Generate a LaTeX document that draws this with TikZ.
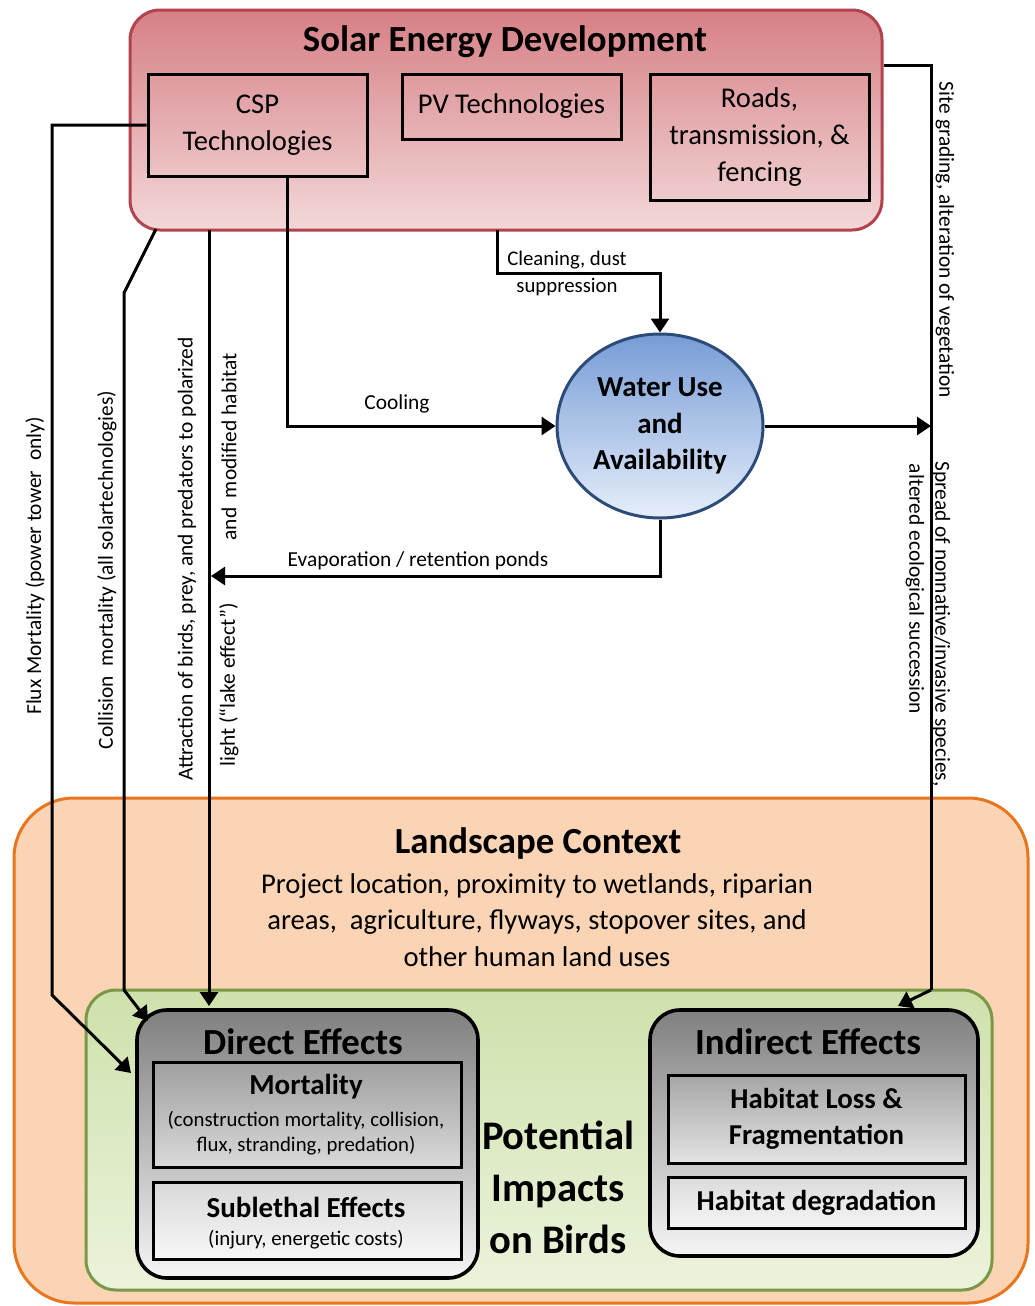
\documentclass[tikz,border=0pt]{standalone}
\usepackage{fontspec}
\setmainfont{Carlito}
\usetikzlibrary{shapes.geometric, arrows.meta, positioning, calc}
\definecolor{solarred}{RGB}{178, 66, 78}
\definecolor{solartop}{RGB}{214, 128, 134}
\definecolor{solarbot}{RGB}{243, 216, 216}
\definecolor{waterblue}{RGB}{45, 75, 120}
\definecolor{watertop}{RGB}{118, 156, 214}
\definecolor{waterbot}{RGB}{230, 238, 250}
\definecolor{landorange}{RGB}{232, 118, 30}
\definecolor{landfill}{RGB}{251, 212, 181}
\definecolor{impactgreen}{RGB}{122, 152, 70}
\definecolor{greentop}{RGB}{206, 225, 172}
\definecolor{greenbot}{RGB}{236, 243, 220}

\tikzset{
  techbox/.style={draw=black, line width=1.5pt, align=center, inner sep=0pt,
    font=\fontsize{14.3}{18.5}\selectfont},
  effectbox/.style={draw=black, line width=1.8pt, rounded corners=15pt,
    top color=gray!100!black, bottom color=gray!8},
  subbox/.style={draw=black, line width=1.5pt, align=center, inner sep=0pt},
  flow/.style={line width=1.5pt, -{Triangle[length=7pt, width=9pt]}},
  lbl/.style={font=\fontsize{10.7}{12}\selectfont, inner sep=0pt},
  heading/.style={font=\fontsize{18.4}{21}\selectfont\bfseries},
}

\begin{document}
\begin{tikzpicture}[x=0.5pt, y=-0.5pt]
  \useasboundingbox (0,0) rectangle (1034,1306);

  % landscape and impacts
  \node[draw=landorange, line width=1.5pt, fill=landfill, rounded corners=30pt,
    minimum width=507pt, minimum height=252.5pt] (land) at (521,1050.5) {};
  \node[heading] (landtitle) at (538,843) {Landscape Context};
  \node[align=center, font=\fontsize{14.3}{18.3}\selectfont] (landtext) at (537,920)
    {Project location, proximity to wetlands, riparian\\
     areas,\ \ agriculture, flyways, stopover sites, and\\
     other human land uses};
  \node[draw=impactgreen, line width=1.5pt, top color=greentop, bottom color=greenbot,
    rounded corners=15pt, minimum width=453pt, minimum height=150pt] (impacts) at (539,1140) {};

  \node[effectbox, minimum width=170.5pt, minimum height=134pt] (direct) at (307.5,1144) {};
  \node[heading] (directtitle) at (303,1042) {Direct Effects};
  \node[subbox, top color=gray!75, bottom color=gray!30, minimum width=154pt,
    minimum height=52.5pt] (mort) at (307,1114.5) {};
  \node[font=\fontsize{14.5}{15}\selectfont\bfseries] (morttitle) at (306,1087) {Mortality};
  \node[align=center, font=\fontsize{10.4}{12.5}\selectfont] (morttext) at (306,1133)
    {(construction mortality, collision,\\flux, stranding, predation)};
  \node[subbox, top color=gray!30, bottom color=gray!6, minimum width=154pt,
    minimum height=38.5pt] (sub) at (307,1220.5) {};
  \node[font=\fontsize{14.5}{15}\selectfont\bfseries] (subtitle) at (306,1207) {Sublethal Effects};
  \node[font=\fontsize{10.4}{12}\selectfont] (subtext) at (306,1240) {(injury, energetic costs)};

  \node[align=center, font=\fontsize{20.3}{26}\selectfont\bfseries] (impacttitle) at (558,1187)
    {Potential\\Impacts\\on Birds};

  \node[effectbox, minimum width=164pt, minimum height=123pt] (indirect) at (814,1133) {};
  \node[heading] (indirecttitle) at (808,1042) {Indirect Effects};
  \node[subbox, top color=gray!70, bottom color=gray!22, minimum width=148.5pt,
    minimum height=44pt, font=\fontsize{14.4}{18}\selectfont\bfseries] (loss) at (816.5,1119)
    {Habitat Loss \&\\Fragmentation};
  \node[subbox, top color=gray!28, bottom color=gray!8, minimum width=148.5pt,
    minimum height=25.5pt, font=\fontsize{14.4}{15}\selectfont\bfseries] (degr) at (816.5,1202.5)
    {Habitat degradation};

  % solar development
  \node[draw=solarred, line width=1.5pt, top color=solartop, bottom color=solarbot,
    rounded corners=15pt, minimum width=376pt, minimum height=110pt] (solar) at (506,120) {};
  \node[heading] (solartitle) at (505,42) {Solar Energy Development};
  \node[techbox, minimum width=109.5pt, minimum height=51pt] (csp) at (257.5,125)
    {CSP\\Technologies};
  \node[techbox, minimum width=109.5pt, minimum height=32.5pt] (pv) at (511.5,106.5)
    {PV Technologies};
  \node[techbox, minimum width=109.5pt, minimum height=63pt] (roads) at (759.5,137)
    {Roads,\\transmission, \&\\fencing};

  \node[ellipse, draw=waterblue, line width=1.5pt, top color=watertop, bottom color=waterbot,
    minimum width=103pt, minimum height=92pt, inner sep=0pt, align=center,
    font=\fontsize{14.5}{18.3}\selectfont\bfseries] (water) at (660,426)
    {Water Use\\and\\Availability};

  % connectors
  \coordinate (fluxdown) at (52,995);
  \coordinate (fluxtip) at (131,1073);
  \draw[flow] (csp.west) -| (fluxdown) -- (fluxtip);

  \coordinate (collstart) at (156,229);
  \coordinate (collbend) at (124,293);
  \coordinate (colldown) at (124,990);
  \coordinate (colltip) at (148,1021);
  \draw[flow] (collstart) -- (collbend) -- (colldown) -- (colltip);

  \coordinate (attrstart) at (209,230);
  \coordinate (attrtip) at (209,1006);
  \draw[flow] (attrstart) -- (attrtip);

  \draw[flow] ([xshift=15pt]csp.south) |- (water.west);

  \coordinate (cleanstart) at (497,230);
  \coordinate (cleanbend) at (497,273);
  \draw[flow] (cleanstart) -- (cleanbend) -| (water.north);

  \coordinate (evaptip) at (211,576);
  \draw[flow] (water.south) |- (evaptip);

  \coordinate (sitetop) at (931,65);
  \coordinate (sitedown) at (931,990);
  \coordinate (sitetip) at (898,1006);
  \draw[line width=1.5pt] (solar.east |- sitetop) -- (sitetop) -- (sitedown);
  \draw[flow] (sitedown) -- (sitetip);
  \draw[flow] (water.east) -- (water.east -| sitetop);

  % connector labels
  \node[lbl] (coollbl) at (397,404) {Cooling};
  \node[lbl, align=center, font=\fontsize{10.4}{13.5}\selectfont] (cleanlbl) at (567,273)
    {Cleaning, dust\\suppression};
  \node[lbl] (evaplbl) at (418,561) {Evaporation / retention ponds};
  \node[lbl, rotate=90] (fluxlbl) at (35,566) {Flux Mortality (power tower\ \ only)};
  \node[lbl, rotate=90] (colllbl) at (107,570) {Collision\ \ mortality (all solartechnologies)};
  \node[lbl, rotate=90] (attrlbl) at (187,559) {Attraction of birds, prey, and predators to polarized};
  \node[lbl, rotate=90] (habitatlbl) at (229,447) {and\ \ modified habitat};
  \node[lbl, rotate=90] (lakelbl) at (229,685) {light (``lake effect'')};
  \node[lbl, rotate=-90] (sitelbl) at (945,240) {Site grading, alteration of vegetation};
  \node[lbl, rotate=-90] (spreadlbl) at (941,624) {Spread of nonnative/invasive species,};
  \node[lbl, rotate=-90] (succlbl) at (915,589) {altered ecological succession};
\end{tikzpicture}
\end{document}
